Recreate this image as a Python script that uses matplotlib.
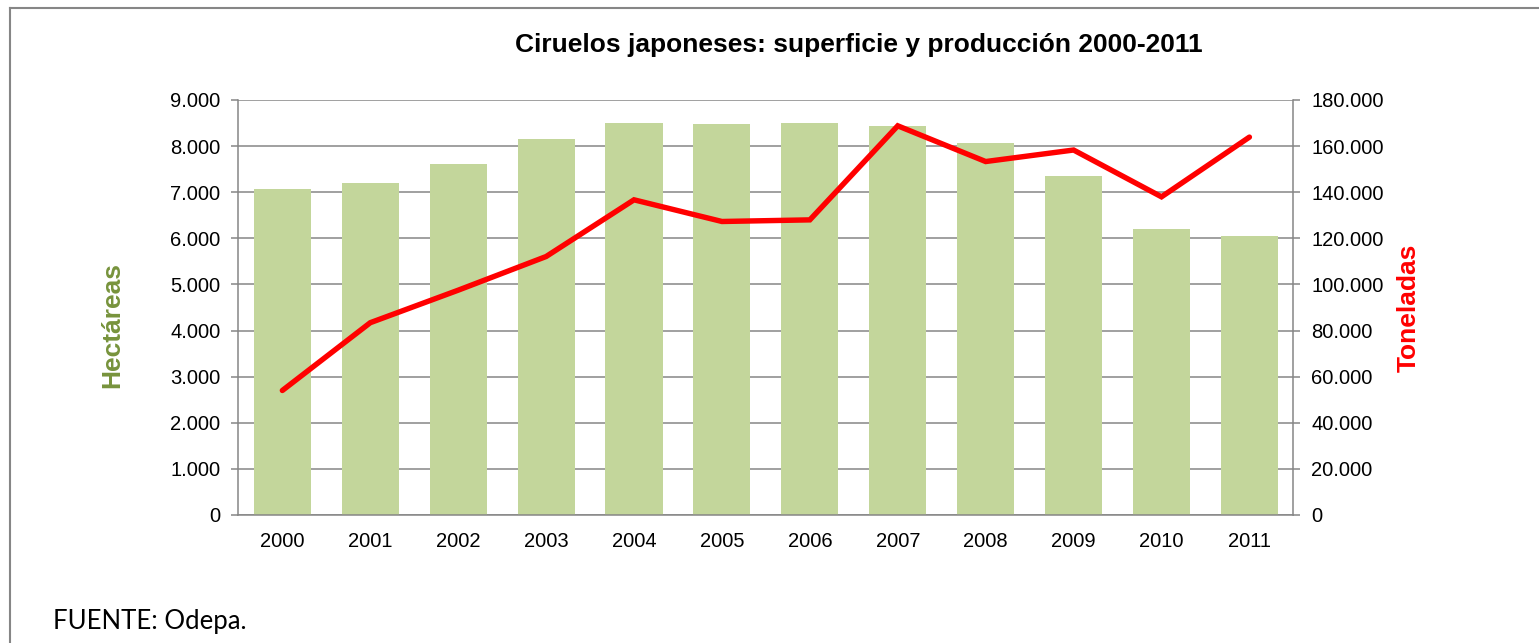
import matplotlib
matplotlib.use("Agg")
from matplotlib import pyplot as plt
from matplotlib.ticker import FuncFormatter, MultipleLocator

# Data
years = ['2000', '2001', '2002', '2003', '2004', '2005',
         '2006', '2007', '2008', '2009', '2010', '2011']
hectareas = [7060, 7200, 7610, 8160, 8500, 8480,
             8500, 8440, 8070, 7350, 6200, 6050]
toneladas = [54000, 83400, 97500, 112100, 136700, 127300,
             128000, 168800, 153300, 158300, 138000, 163900]

plt.rcParams['font.family'] = ['Liberation Sans', 'DejaVu Sans']

GRID = '#868686'
BAR = '#C3D69B'
GREEN = '#77933C'


def miles(v, pos):
    return f"{int(round(v)):,}".replace(',', '.')


fig = plt.figure(figsize=(15.39, 6.43), dpi=100)
ax = fig.add_axes([0.1549, 0.1991, 0.6855, 0.6454])

x = range(len(years))
ax.bar(x, hectareas, width=0.65, color=BAR, zorder=2)
ax.set_xlim(-0.5, len(years) - 0.5)
ax.set_ylim(0, 9000)
ax.yaxis.set_major_locator(MultipleLocator(1000))
ax.yaxis.set_major_formatter(FuncFormatter(miles))
ax.set_xticks(list(x))
ax.set_xticklabels(years)
ax.grid(axis='y', color=GRID, linewidth=1.1, zorder=0)
ax.set_axisbelow(True)
ax.tick_params(axis='x', length=0, pad=12, labelsize=14.5)
ax.tick_params(axis='y', length=5, width=1.1, color=GRID, pad=8, labelsize=14.5)
for s in ['left', 'bottom']:
    ax.spines[s].set_color(GRID)
    ax.spines[s].set_linewidth(1.1)
ax.spines['top'].set_visible(False)
ax.spines['right'].set_visible(False)
ax.set_ylabel('Hectáreas', color=GREEN, fontsize=19, fontweight='bold')
ax.yaxis.set_label_coords(-0.108, 0.458)

ax2 = ax.twinx()
ax2.plot(x, toneladas, color='#FF0000', linewidth=3.9, solid_capstyle='round',
         solid_joinstyle='miter')
ax2.set_ylim(0, 180000)
ax2.yaxis.set_major_locator(MultipleLocator(20000))
ax2.yaxis.set_major_formatter(FuncFormatter(miles))
ax2.tick_params(axis='y', length=5, width=1.1, color=GRID, pad=8, labelsize=14.5)
ax2.spines['right'].set_color(GRID)
ax2.spines['right'].set_linewidth(1.1)
for s in ['top', 'left', 'bottom']:
    ax2.spines[s].set_visible(False)
ax2.set_ylabel('Toneladas', color='#FF0000', fontsize=19, fontweight='bold', labelpad=9)

fig.text(859 / 1539, 1 - 45 / 643, 'Ciruelos japoneses: superficie y producción 2000-2011',
         ha='center', va='center', fontsize=19, fontweight='bold')
fig.text(53 / 1539, 1 - 622 / 643, 'FUENTE: Odepa.', ha='left', va='center',
         fontsize=18.5, family=['Lato', 'DejaVu Sans'])

# chart frame (top and left edges visible)
fig.add_artist(plt.Line2D([10 / 1539, 1], [1 - 8 / 643, 1 - 8 / 643],
                          color=GRID, linewidth=1.5, transform=fig.transFigure))
fig.add_artist(plt.Line2D([10 / 1539, 10 / 1539], [0, 1 - 8 / 643],
                          color=GRID, linewidth=1.5, transform=fig.transFigure))

fig.savefig('out.png', dpi=100)
